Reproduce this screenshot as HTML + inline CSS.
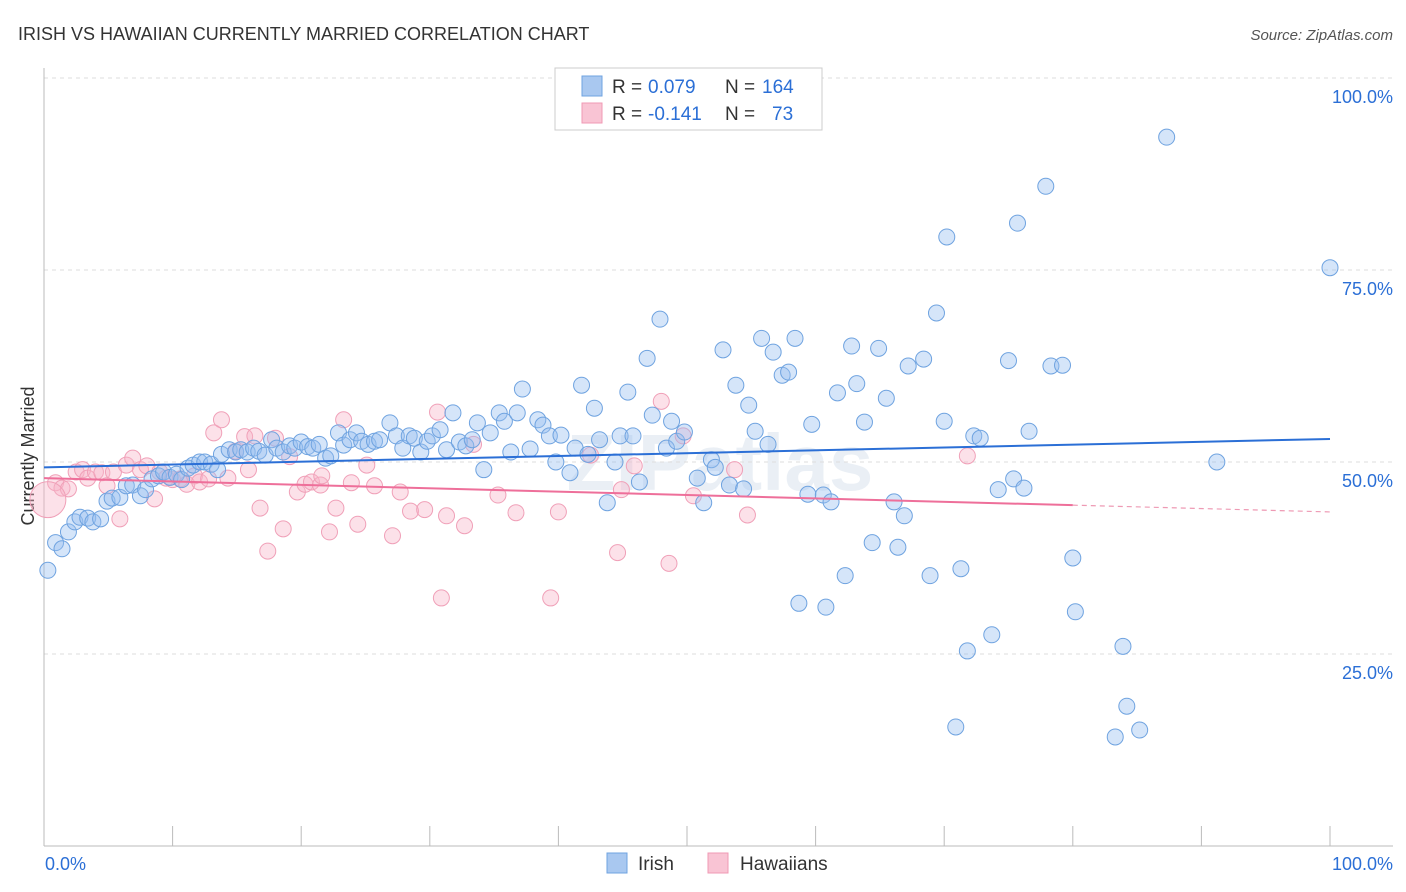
<!DOCTYPE html>
<html><head><meta charset="utf-8">
<style>
body{margin:0;background:#fff;font-family:"Liberation Sans",sans-serif;}
svg{display:block}
</style></head>
<body>
<svg id="chart" width="1406" height="892">
<text x="18" y="40" font-size="18" fill="#333">IRISH VS HAWAIIAN CURRENTLY MARRIED CORRELATION CHART</text>
<text x="1393" y="40" font-size="15" fill="#555" font-style="italic" text-anchor="end">Source: ZipAtlas.com</text>
<text x="34" y="456" font-size="18" fill="#333" text-anchor="middle" transform="rotate(-90 34 456)">Currently Married</text>
<text x="720" y="490" font-size="80" fill="#dde6f0" text-anchor="middle" font-weight="bold" opacity="0.6">ZIPatlas</text>
<g id="grid"></g>
<g id="axes"></g>
<g id="marks"></g>
<g>
<rect x="555" y="68" width="267" height="62" fill="#fff" stroke="#ccc"/>
<rect x="582" y="76" width="20" height="20" fill="#a9c8f0" stroke="#6fa3e0"/>
<rect x="582" y="103" width="20" height="20" fill="#f9c4d4" stroke="#f09ab4"/>
<text x="612" y="93" font-size="19" fill="#333">R =</text>
<text x="648" y="93" font-size="19" fill="#2b6fd6">0.079</text>
<text x="725" y="93" font-size="19" fill="#333">N =</text>
<text x="762" y="93" font-size="19" fill="#2b6fd6">164</text>
<text x="612" y="120" font-size="19" fill="#333">R =</text>
<text x="648" y="120" font-size="19" fill="#2b6fd6">-0.141</text>
<text x="725" y="120" font-size="19" fill="#333">N =</text>
<text x="772" y="120" font-size="19" fill="#2b6fd6">73</text>
</g>
<g>
<rect x="607" y="853" width="20" height="20" fill="#a9c8f0" stroke="#6fa3e0"/>
<text x="638" y="870" font-size="19" fill="#333">Irish</text>
<rect x="708" y="853" width="20" height="20" fill="#f9c4d4" stroke="#f09ab4"/>
<text x="740" y="870" font-size="19" fill="#333">Hawaiians</text>
</g>
</svg>
<script>
const yTicks=[25,50,75,100];
const yTickLabels=["25.0%","50.0%","75.0%","100.0%"];
const xEndLabels=["0.0%","100.0%"];
const irishX=[0.3,0.9,1.4,1.9,2.4,2.8,3.4,3.8,4.4,4.9,5.3,5.9,6.4,6.9,7.5,7.9,8.4,8.9,9.3,9.8,10.3,10.7,11.2,11.6,12.1,12.5,13.0,13.5,13.8,14.4,14.9,15.3,15.8,16.3,16.7,17.2,17.7,18.1,18.6,19.1,19.5,20.0,20.5,20.9,21.4,21.9,22.3,22.9,23.3,23.8,24.3,24.7,25.2,25.7,26.1,26.9,27.4,27.9,28.4,28.8,29.3,29.8,30.2,30.8,31.3,31.8,32.3,32.8,33.3,33.7,34.2,34.7,35.4,35.8,36.3,36.8,37.2,37.8,38.4,38.8,39.3,39.8,40.2,40.9,41.3,41.8,42.3,42.8,43.2,43.8,44.4,44.8,45.4,45.8,46.3,46.9,47.3,47.9,48.4,48.8,49.2,49.8,50.8,51.3,51.9,52.2,52.8,53.3,53.8,54.4,54.8,55.3,55.8,56.3,56.7,57.4,57.9,58.4,58.7,59.4,59.7,60.6,60.8,61.2,61.7,62.3,62.8,63.2,63.8,64.4,64.9,65.5,66.1,66.4,66.9,67.2,68.4,68.9,69.4,70.0,70.2,70.9,71.3,71.8,72.3,72.8,73.7,74.2,75.0,75.4,75.7,76.2,76.6,77.9,78.3,79.2,80.0,80.2,83.3,83.9,84.2,85.2,87.3,91.2,100.0];
const irishY=[35.9,39.5,38.7,40.9,42.2,42.8,42.7,42.2,42.6,44.9,45.3,45.4,46.9,47.0,45.6,46.4,47.8,48.2,48.7,48.0,48.4,47.7,49.2,49.6,50.0,50.0,49.7,49.0,51.0,51.6,51.3,51.6,51.3,51.8,51.4,50.9,52.9,51.8,51.3,52.1,51.8,52.6,52.0,51.8,52.3,50.5,50.8,53.8,52.2,52.9,53.8,52.7,52.3,52.7,52.9,55.1,53.4,51.8,53.4,53.1,51.3,52.7,53.4,54.2,51.6,56.4,52.6,52.1,52.9,55.1,49.0,53.8,56.4,55.3,51.3,56.4,59.5,51.7,55.5,54.8,53.4,50.0,53.5,48.6,51.8,60.0,51.0,57.0,52.9,44.7,50.0,53.4,59.1,53.4,47.4,63.5,56.1,68.6,51.8,55.3,52.7,53.9,47.9,44.7,50.3,49.3,64.6,47.0,60.0,46.5,57.4,54.0,66.1,52.3,64.3,61.3,61.7,66.1,31.6,45.8,54.9,45.7,31.1,44.8,59.0,35.2,65.1,60.2,55.2,39.5,64.8,58.3,44.8,38.9,43.0,62.5,63.4,35.2,69.4,55.3,79.3,15.5,36.1,25.4,53.4,53.1,27.5,46.4,63.2,47.8,81.1,46.6,54.0,85.9,62.5,62.6,37.5,30.5,14.2,26.0,18.2,15.1,92.3,50.0,75.3];
const hawX=[0.9,1.4,1.9,2.5,3.0,3.4,4.0,4.5,4.9,5.4,5.9,6.4,6.9,7.5,8.0,8.6,9.0,9.5,10.0,10.6,11.1,11.7,12.1,12.8,13.2,13.8,14.3,14.9,15.6,15.9,16.4,16.8,17.4,18.0,18.6,19.1,19.7,20.3,20.8,21.5,21.6,22.2,22.7,23.3,23.9,24.4,25.1,25.7,27.1,27.7,28.5,29.6,30.6,30.9,31.3,32.7,33.4,35.3,36.7,39.4,40.0,42.5,44.6,44.9,45.9,48.0,48.6,49.7,50.5,53.7,54.7,71.8];
const hawY=[47.3,46.6,46.5,48.7,49.0,47.9,48.7,48.6,46.9,48.7,42.6,49.6,50.5,49.0,49.5,45.2,48.7,47.9,47.7,47.8,47.1,48.2,47.4,47.8,53.8,55.5,47.9,51.4,53.3,49.0,53.4,44.0,38.4,53.1,41.3,50.7,46.1,47.1,47.4,47.0,48.2,40.9,44.0,55.5,47.3,41.9,49.6,46.9,40.4,46.1,43.6,43.8,56.5,32.3,43.0,41.7,52.3,45.7,43.4,32.3,43.5,50.9,38.2,46.4,49.5,57.9,36.8,53.4,45.6,49.0,43.1,50.8];
const hawBigX=[0.3], hawBigY=[45.1];
const irishTrend=[49.3,53.0];
const hawTrend=[47.9,43.5];
const hawTrendSolidEnd=80;

const NS="http://www.w3.org/2000/svg";
const X0=44,X1=1330,Y0=846,Y100=78;
const sx=v=>X0+(X1-X0)*v/100;
const sy=v=>Y0-(Y0-Y100)*v/100;
function mk(tag,attrs,parent){const e=document.createElementNS(NS,tag);for(const k in attrs)e.setAttribute(k,attrs[k]);parent.appendChild(e);return e;}
const grid=document.getElementById('grid'),axes=document.getElementById('axes'),marks=document.getElementById('marks');
yTicks.forEach((t,i)=>{
 const l=mk('line',{x1:X0,x2:1393,y1:sy(t),y2:sy(t),stroke:'#ddd','stroke-dasharray':'4,4'},grid);
 
 
 const tx=mk('text',{x:1393,y:sy(t)+25,'font-size':18,fill:'#2b6fd6','text-anchor':'end'},axes);
 tx.textContent=yTickLabels[i];
 
 
});
const ax=mk('line',{x1:X0,x2:1393,y1:Y0,y2:Y0,stroke:'#bbb'},axes);


const ay=mk('line',{x1:X0,x2:X0,y1:68,y2:Y0,stroke:'#bbb'},axes);


for(let i=0;i<=10;i++){
 const t=mk('line',{x1:sx(i*10),x2:sx(i*10),y1:826,y2:Y0,stroke:'#bbb'},axes);
 
 
}
[[0,'start'],[100,'end']].forEach((p,i)=>{
 const t=mk('text',{x:sx(p[0])+(i?63:1),y:870,'font-size':18,fill:'#2b6fd6','text-anchor':p[1]},axes);
 t.textContent=xEndLabels[i];
 
 
});
function dots(xs,ys,r,fill,stroke,name){
 xs.forEach((x,i)=>{
  const c=mk('circle',{cx:sx(x),cy:sy(ys[i]),r:r,fill:fill,stroke:stroke,'stroke-width':1},marks);
  
  
 });
}
dots(hawX,hawY,8,'rgba(248,180,200,0.4)','#f0a0b8','hawaiian-point');
dots(hawBigX,hawBigY,18,'rgba(248,180,200,0.4)','#f0a0b8','hawaiian-point');
dots(irishX,irishY,8,'rgba(150,190,240,0.4)','#6fa3e0','irish-point');
const bt=mk('line',{x1:sx(0),y1:sy(irishTrend[0]),x2:sx(100),y2:sy(irishTrend[1]),stroke:'#2b6fd6','stroke-width':2},marks);


const hm=(hawTrend[1]-hawTrend[0])/100;
const pt=mk('line',{x1:sx(0),y1:sy(hawTrend[0]),x2:sx(hawTrendSolidEnd),y2:sy(hawTrend[0]+hm*hawTrendSolidEnd),stroke:'#ee6f9a','stroke-width':2},marks);


const pd=mk('line',{x1:sx(hawTrendSolidEnd),y1:sy(hawTrend[0]+hm*hawTrendSolidEnd),x2:sx(100),y2:sy(hawTrend[1]),stroke:'#ee9ab4','stroke-width':1.2,'stroke-dasharray':'5,4'},marks);


</script>
</body></html>
